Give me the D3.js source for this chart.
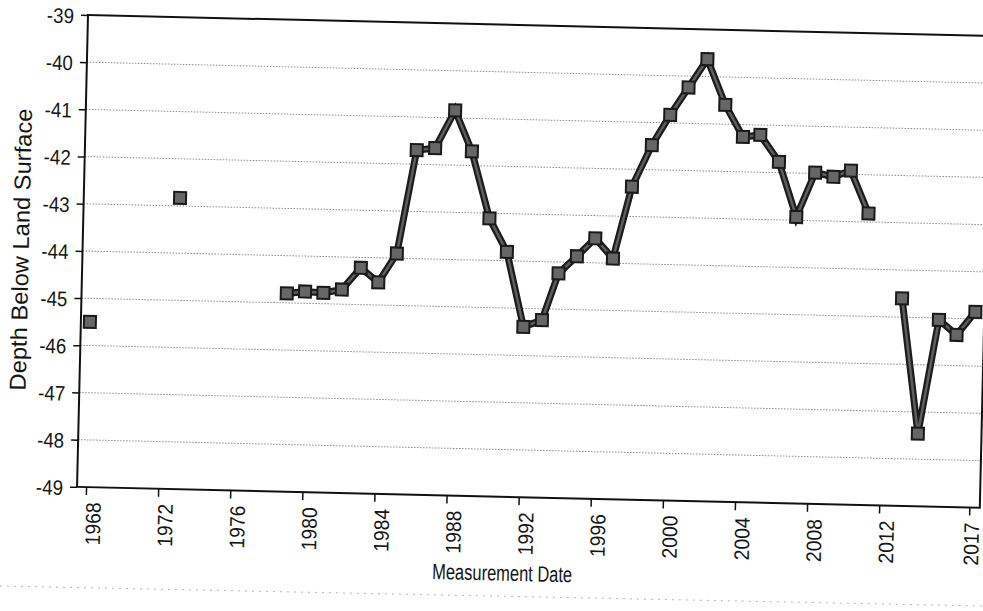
<!DOCTYPE html>
<html>
<head>
<meta charset="utf-8">
<script src="https://cdn.jsdelivr.net/npm/d3@7"></script>
<style>
  html, body { margin: 0; padding: 0; background: #fff; }
  svg { display: block; }
  text { font-family: "Liberation Sans", Arial, sans-serif; fill: #151515; }
</style>
</head>
<body>
<svg id="chart" width="983" height="611"></svg>
<script>
// ---- data ----
const years = [1968.0, 1972.84,
  1978.88, 1979.89, 1980.91, 1981.93, 1982.95, 1983.94, 1984.93, 1985.90,
  1986.92, 1987.98, 1988.96, 1990.02, 1991.03, 1992.04, 1993.06, 1993.92,
  1994.92, 1995.91, 1996.92, 1997.88, 1998.93, 1999.91, 2000.89, 2001.90,
  2002.95, 2003.97, 2004.93, 2006.00, 2007.03, 2008.02, 2009.04, 2010.00,
  2011.03,
  2013.00, 2014.05, 2015.07, 2016.07, 2017.08];
const depths = [-45.50, -42.83,
  -44.80, -44.75, -44.77, -44.69, -44.22, -44.52, -43.90, -41.70,
  -41.65, -40.84, -41.70, -43.11, -43.81, -45.39, -45.24, -44.24,
  -43.87, -43.48, -43.90, -42.37, -41.48, -40.83, -40.24, -39.63,
  -40.59, -41.26, -41.21, -41.77, -42.93, -41.98, -42.06, -41.92,
  -42.82,
  -44.60, -47.46, -45.04, -45.35, -44.85];
const xTickValues = [1968, 1972, 1976, 1980, 1984, 1988, 1992, 1996, 2000, 2004, 2008, 2012, 2017];
const yTickValues = [-39, -40, -41, -42, -43, -44, -45, -46, -47, -48, -49];
const gridValues = [-40, -41, -42, -43, -44, -45, -46, -47, -48];
const xTitle = "Measurement Date";
const yTitle = "Depth Below Land Surface";

// ---- layout ----
const W = 903, H = 472;
const svg = d3.select("#chart");

// faint scan border line near bottom
svg.append("line")
  .attr("x1", 0).attr("y1", 586).attr("x2", 983).attr("y2", 606)
  .attr("stroke", "#b5b5b5").attr("stroke-width", 1).attr("stroke-dasharray", "2,5");

const g = svg.append("g").attr("transform", "translate(88,15) rotate(1.33)");

const x = d3.scaleLinear().domain([1967.5, 2017.58]).range([0, W]);
const y = d3.scaleLinear().domain([-49, -39]).range([H, 0]);
const plainNum = d => String(d); // hyphen-minus as in the reference

// gridlines
g.append("g").selectAll("line").data(gridValues).join("line")
  .attr("x1", 0).attr("x2", W)
  .attr("y1", d => y(d)).attr("y2", d => y(d))
  .attr("stroke", "#8c8c8c").attr("stroke-width", 1).attr("stroke-dasharray", "1.5,1.5");

// frame
g.append("rect").attr("x", 0).attr("y", 0).attr("width", W).attr("height", H)
  .attr("fill", "none").attr("stroke", "#111").attr("stroke-width", 2);

// y axis
const yAxis = g.append("g").call(
  d3.axisLeft(y).tickValues(yTickValues).tickSize(7).tickPadding(7).tickFormat(plainNum)
);
yAxis.select(".domain").remove();
yAxis.selectAll(".tick line").attr("stroke", "#111").attr("stroke-width", 1.5);
yAxis.selectAll(".tick text")
  .attr("font-size", 21).attr("fill", "#151515")
  .attr("dy", "0.38em")
  .attr("textLength", 27).attr("lengthAdjust", "spacingAndGlyphs");

// x axis
const xAxis = g.append("g").attr("transform", `translate(0,${H})`).call(
  d3.axisBottom(x).tickValues(xTickValues).tickSize(8).tickFormat(plainNum)
);
xAxis.select(".domain").remove();
xAxis.selectAll(".tick line").attr("stroke", "#111").attr("stroke-width", 1.5);
xAxis.selectAll(".tick text")
  .attr("font-size", 21).attr("fill", "#151515")
  .attr("text-anchor", "end")
  .attr("transform", (d, i, n) => `translate(${i === n.length - 1 ? 2 : 7},15) rotate(-90)`)
  .attr("x", 0).attr("y", 0).attr("dy", "0.36em")
  .attr("textLength", 43).attr("lengthAdjust", "spacingAndGlyphs");

// titles
g.append("text")
  .attr("transform", "translate(-62,236) rotate(-90)")
  .attr("text-anchor", "middle").attr("dy", "0.36em")
  .attr("font-size", 23)
  .attr("textLength", 282).attr("lengthAdjust", "spacingAndGlyphs")
  .text(yTitle);

g.append("text")
  .attr("x", 427).attr("y", 548)
  .attr("text-anchor", "middle").attr("dy", "0.36em")
  .attr("font-size", 22)
  .attr("textLength", 140).attr("lengthAdjust", "spacingAndGlyphs")
  .text(xTitle);

// data points and connected segments (gaps where measurements are missing)
const pts = years.map((yr, i) => ({ yr, v: depths[i] }));
const segments = [];
pts.forEach((p, i) => {
  if (i === 0 || p.yr - pts[i - 1].yr > 1.5) segments.push([p]);
  else segments[segments.length - 1].push(p);
});
const line = d3.line().x(d => x(d.yr)).y(d => y(d.v));
const lines = g.append("g");
segments.filter(s => s.length > 1).forEach(s => {
  lines.append("path").attr("d", line(s)).attr("fill", "none")
    .attr("stroke", "#1c1c1c").attr("stroke-width", 7).attr("stroke-miterlimit", 6);
  lines.append("path").attr("d", line(s)).attr("fill", "none")
    .attr("stroke", "#5e5e5e").attr("stroke-width", 2.5);
});
const ms = 12;
g.append("g").selectAll("rect").data(pts).join("rect")
  .attr("x", d => x(d.yr) - ms / 2).attr("y", d => y(d.v) - ms / 2)
  .attr("width", ms).attr("height", ms)
  .attr("fill", "#666").attr("stroke", "#1a1a1a").attr("stroke-width", 2);
</script>
</body>
</html>
